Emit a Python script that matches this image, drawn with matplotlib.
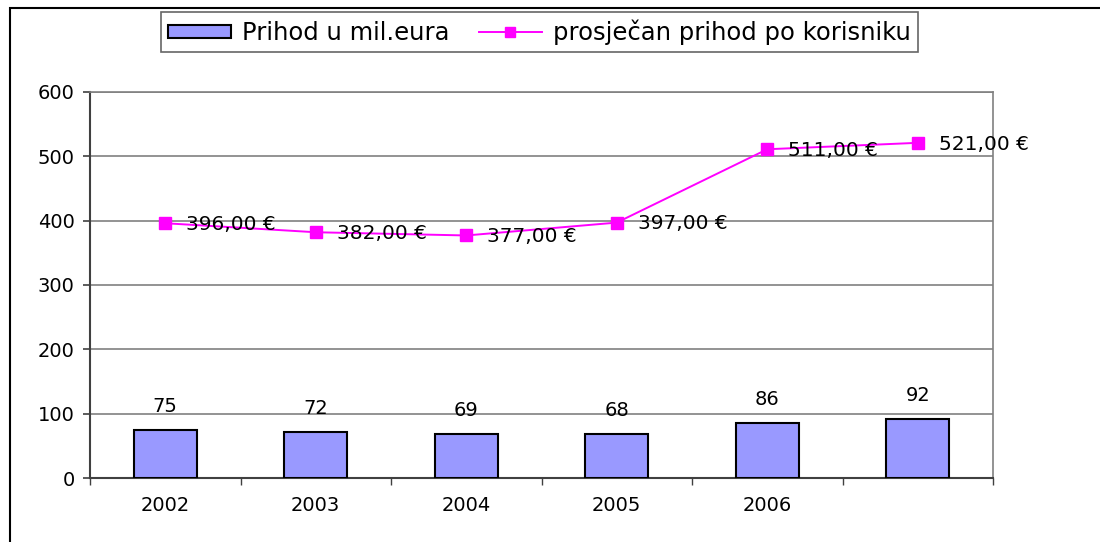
import matplotlib
matplotlib.use("Agg")
import matplotlib.pyplot as plt
from matplotlib.patches import Rectangle
import numpy as np

plt.rcParams['font.family'] = ['DejaVu Sans']

categories = ["2002", "2003", "2004", "2005", "2006", ""]
revenue = [75, 72, 69, 68, 86, 92]
arpu = [396, 382, 377, 397, 511, 521]
arpu_labels = ["396,00 €", "382,00 €", "377,00 €", "397,00 €", "511,00 €", "521,00 €"]
yticks = [0, 100, 200, 300, 400, 500, 600]

fig = plt.figure(figsize=(11, 5.42), dpi=100)
ax = fig.add_axes([90/1100, 1 - 478/542, (993-90)/1100, (478-92)/542])

x = np.arange(len(categories))
bar_color = "#9999FF"
line_color = "#FF00FF"

bars = ax.bar(x, revenue, width=0.42, color=bar_color, edgecolor="black", linewidth=1.5,
              zorder=3, label="Prihod u mil.eura")
line, = ax.plot(x, arpu, color=line_color, linewidth=1.4, marker="s", markersize=9,
                zorder=4, label="prosječan prihod po korisniku")

for xi, v in zip(x, revenue):
    ax.annotate(str(v), (xi, v), xytext=(0, 13), textcoords="offset points",
                ha="center", va="baseline", fontsize=14, zorder=5)
for xi, v, lab in zip(x, arpu, arpu_labels):
    ax.annotate(lab, (xi, v), xytext=(15, -1), textcoords="offset points",
                ha="left", va="center", fontsize=14.5, zorder=5)

ax.set_xlim(-0.5, len(categories) - 0.5)
ax.set_ylim(0, 600)
ax.set_yticks(yticks)
ax.set_yticklabels([str(t) for t in yticks], fontsize=14)
ax.yaxis.grid(True, color="#808080", linewidth=1.2, zorder=0)
ax.set_axisbelow(True)

ax.set_xticks(x)
ax.set_xticklabels(categories, fontsize=14)
ax.tick_params(axis="x", length=0, pad=13)
ax.set_xticks(np.arange(-0.5, len(categories) + 0.5, 1), minor=True)
ax.tick_params(axis="x", which="minor", length=5, color="#404040", width=1)
ax.tick_params(axis="y", length=5, color="#404040", width=1.2, pad=6)

for side in ["top", "right"]:
    ax.spines[side].set_color("#808080")
    ax.spines[side].set_linewidth(1.2)
for side in ["left", "bottom"]:
    ax.spines[side].set_color("#404040")
    ax.spines[side].set_linewidth(1.5)

leg = fig.legend(handles=[bars, line], loc="center", bbox_to_anchor=(539.5/1100, 1 - 32/542),
                 ncol=2, fontsize=17.5, frameon=True, fancybox=False, handlelength=2.6,
                 handleheight=0.45, columnspacing=1.2, handletextpad=0.45, borderpad=0.3,
                 borderaxespad=0, markerscale=0.8)
leg.get_frame().set_edgecolor("#404040")
leg.get_frame().set_linewidth(1.2)

fig.patches.append(Rectangle((10/1100, -0.1), 1.2, 1 - 8/542 + 0.1, transform=fig.transFigure,
                             fill=False, edgecolor="black", linewidth=1.5, zorder=0))

fig.savefig("out.png", dpi=100)
